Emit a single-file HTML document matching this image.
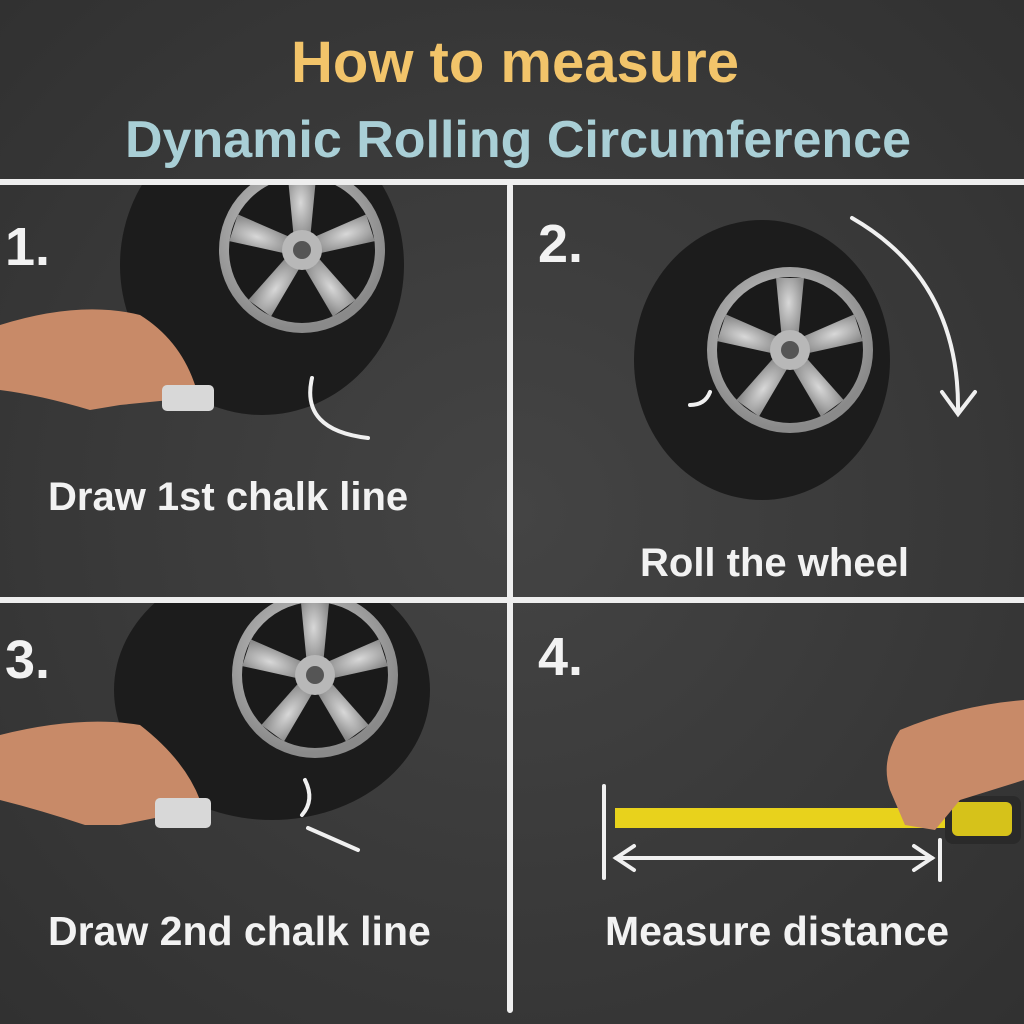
<!DOCTYPE html>
<html><head><meta charset="utf-8"><style>
html,body{margin:0;padding:0;background:#383838;}
svg{display:block}
text{font-family:"Liberation Sans","DejaVu Sans",sans-serif;font-weight:bold}
</style></head><body>
<svg width="1024" height="1024" viewBox="0 0 1024 1024" xmlns="http://www.w3.org/2000/svg">
<defs>
<radialGradient id="bg" cx="50%" cy="50%" r="70%"><stop offset="0" stop-color="#444"/><stop offset="1" stop-color="#313131"/></radialGradient>
<radialGradient id="rim" cx="45%" cy="40%" r="60%"><stop offset="0" stop-color="#d8d8d8"/><stop offset="1" stop-color="#8a8a8a"/></radialGradient>
<clipPath id="p1"><rect x="0" y="185" width="507" height="412"/></clipPath>
<clipPath id="p3"><rect x="0" y="603" width="507" height="420"/></clipPath>
<g id="rimg">
 <circle r="80" fill="#1a1a1a"/>
 <circle r="78" fill="none" stroke="url(#rim)" stroke-width="10"/>
 <g fill="url(#rim)">
  <path d="M-8,-10 L-14,-72 L14,-72 L8,-10Z"/>
  <path d="M-8,-10 L-14,-72 L14,-72 L8,-10Z" transform="rotate(72)"/>
  <path d="M-8,-10 L-14,-72 L14,-72 L8,-10Z" transform="rotate(144)"/>
  <path d="M-8,-10 L-14,-72 L14,-72 L8,-10Z" transform="rotate(216)"/>
  <path d="M-8,-10 L-14,-72 L14,-72 L8,-10Z" transform="rotate(288)"/>
 </g>
 <circle r="20" fill="#b8b8b8"/><circle r="9" fill="#555"/>
</g>
</defs>
<rect width="1024" height="1024" fill="url(#bg)"/>
<text x="515" y="82" text-anchor="middle" font-size="58" fill="#f2c46a">How to measure</text>
<text x="518" y="157" text-anchor="middle" font-size="52" fill="#a9cfd6">Dynamic Rolling Circumference</text>
<!-- tire 1 -->
<g clip-path="url(#p1)">
<ellipse cx="262" cy="265" rx="142" ry="150" fill="#1c1c1c"/>
<use href="#rimg" transform="translate(302,250)"/>
</g>
<!-- tire 2 -->
<ellipse cx="762" cy="360" rx="128" ry="140" fill="#1c1c1c"/>
<use href="#rimg" transform="translate(790,350)"/>
<!-- tire 3 -->
<g clip-path="url(#p3)">
<ellipse cx="272" cy="690" rx="158" ry="130" fill="#1c1c1c"/>
<use href="#rimg" transform="translate(315,675)"/>
</g>
<g stroke="#eeeeee" stroke-width="6" stroke-linecap="round">
<line x1="0" y1="182" x2="1024" y2="182"/>
<line x1="0" y1="600" x2="1024" y2="600"/>
<line x1="510" y1="186" x2="510" y2="1010"/>
</g>
<text x="5" y="265" font-size="54" fill="#f2f2f2">1.</text>
<text x="538" y="262" font-size="54" fill="#f2f2f2">2.</text>
<text x="5" y="678" font-size="54" fill="#f2f2f2">3.</text>
<text x="538" y="675" font-size="54" fill="#f2f2f2">4.</text>
<!-- chalk marks -->
<g stroke="#f0f0f0" stroke-width="4" fill="none" stroke-linecap="round">
<path d="M312,378 Q300,430 368,438"/>
<path d="M690,405 Q705,405 710,392"/>
<path d="M852,218 Q960,280 958,412"/>
<path d="M942,392 L958,414 L975,392"/>
<path d="M305,780 Q315,800 302,815"/>
<path d="M308,828 L358,850"/>
<line x1="604" y1="786" x2="604" y2="878"/>
<line x1="940" y1="840" x2="940" y2="880"/>
<line x1="616" y1="858" x2="932" y2="858"/>
<path d="M634,846 L616,858 L634,870"/>
<path d="M914,846 L932,858 L914,870"/>
</g>
<!-- hands -->
<path d="M0,325 Q80,300 140,315 Q180,340 195,385 L170,400 L120,405 L90,410 Q40,395 0,390Z" fill="#c88a68"/>
<rect x="162" y="385" width="52" height="26" rx="5" fill="#d8d8d8"/>
<path d="M0,735 Q80,715 140,725 Q185,760 200,800 L170,815 L120,825 L85,825 Q40,810 0,800Z" fill="#c88a68"/>
<rect x="155" y="798" width="56" height="30" rx="5" fill="#d8d8d8"/>
<!-- tape -->
<rect x="615" y="808" width="335" height="20" fill="#e8d21c"/>
<rect x="945" y="796" width="76" height="48" rx="8" fill="#2a2a2a"/>
<rect x="952" y="802" width="60" height="34" rx="6" fill="#d6c21a"/>
<path d="M1024,700 Q960,705 900,730 Q880,760 890,790 L905,825 L935,830 L960,800 L1024,780Z" fill="#c88a68"/>
<text x="48" y="510" font-size="40" fill="#f2f2f2">Draw 1st chalk line</text>
<text x="640" y="576" font-size="40" fill="#f2f2f2">Roll the wheel</text>
<text x="48" y="945" font-size="41" fill="#f2f2f2">Draw 2nd chalk line</text>
<text x="605" y="945" font-size="41" fill="#f2f2f2">Measure distance</text>
</svg>
</body></html>
